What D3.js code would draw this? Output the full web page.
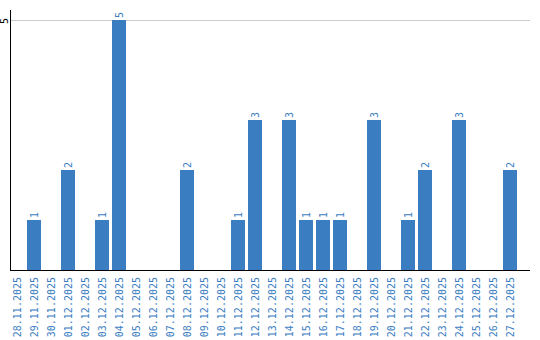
<!DOCTYPE html>
<html>
<head>
<meta charset="utf-8">
<script src="https://cdn.jsdelivr.net/npm/d3@7/dist/d3.min.js"></script>
<style>
  body { margin: 0; background: #fff; }
  svg { display: block; font-family: "DejaVu Sans Mono", monospace; }
</style>
</head>
<body>
<svg id="chart" width="540" height="340"></svg>
<script>
// dates shown on the x axis
const dates = [
  "28.11.2025", "29.11.2025", "30.11.2025", "01.12.2025", "02.12.2025",
  "03.12.2025", "04.12.2025", "05.12.2025", "06.12.2025", "07.12.2025",
  "08.12.2025", "09.12.2025", "10.12.2025", "11.12.2025", "12.12.2025",
  "13.12.2025", "14.12.2025", "15.12.2025", "16.12.2025", "17.12.2025",
  "18.12.2025", "19.12.2025", "20.12.2025", "21.12.2025", "22.12.2025",
  "23.12.2025", "24.12.2025", "25.12.2025", "26.12.2025", "27.12.2025"
];
// count per day
const counts = [
  0, 1, 0, 2, 0,
  1, 5, 0, 0, 0,
  2, 0, 0, 1, 3,
  0, 3, 1, 1, 1,
  0, 3, 0, 1, 2,
  0, 3, 0, 0, 2
];
const yTicks = [5];

const blue = "#3a7dc1";
const svg = d3.select("#chart");

const plotLeft = 10, plotRight = 530, plotTop = 20, plotBottom = 270;

const x = d3.scaleBand()
  .domain(dates)
  .range([plotLeft, 517])
  .paddingInner(3 / 17)
  .paddingOuter(0);

const y = d3.scaleLinear()
  .domain([0, 5])
  .range([plotBottom, plotTop]);

// grid line(s)
svg.append("g").selectAll("line")
  .data(yTicks)
  .join("line")
  .attr("x1", plotLeft).attr("x2", plotRight)
  .attr("y1", d => y(d) + 0.5).attr("y2", d => y(d) + 0.5)
  .attr("stroke", "#cccccc");

// y tick labels
svg.append("g").selectAll("text")
  .data(yTicks)
  .join("text")
  .attr("transform", d => `translate(8,${y(d) + 1}) rotate(-90)`)
  .attr("text-anchor", "middle")
  .attr("font-size", 10)
  .attr("fill", "#000")
  .text(d => d);

// bars
const data = dates.map((d, i) => ({ date: d, value: counts[i] }));

svg.append("g").selectAll("rect")
  .data(data.filter(d => d.value > 0))
  .join("rect")
  .attr("x", d => x(d.date))
  .attr("y", d => y(d.value))
  .attr("width", x.bandwidth())
  .attr("height", d => y(0) - y(d.value))
  .attr("fill", blue);

// value labels
svg.append("g").selectAll("text")
  .data(data.filter(d => d.value > 0))
  .join("text")
  .attr("transform", d => `translate(${x(d.date) + x.bandwidth() / 2},${y(d.value) - 2}) rotate(-90)`)
  .attr("dy", "0.35em")
  .attr("font-size", 10)
  .attr("fill", blue)
  .text(d => d.value);

// axes lines
svg.append("line")
  .attr("x1", plotLeft + 0.5).attr("x2", plotLeft + 0.5)
  .attr("y1", 10).attr("y2", plotBottom + 1)
  .attr("stroke", "#000");
svg.append("line")
  .attr("x1", plotLeft).attr("x2", plotRight)
  .attr("y1", plotBottom + 0.5).attr("y2", plotBottom + 0.5)
  .attr("stroke", "#000");

// x tick labels
svg.append("g").selectAll("text")
  .data(dates)
  .join("text")
  .attr("transform", d => `translate(${x(d) + x.bandwidth() / 2},${plotBottom + 7}) rotate(-90)`)
  .attr("text-anchor", "end")
  .attr("dy", "0.35em")
  .attr("font-size", 10)
  .attr("fill", blue)
  .text(d => d);
</script>
</body>
</html>
